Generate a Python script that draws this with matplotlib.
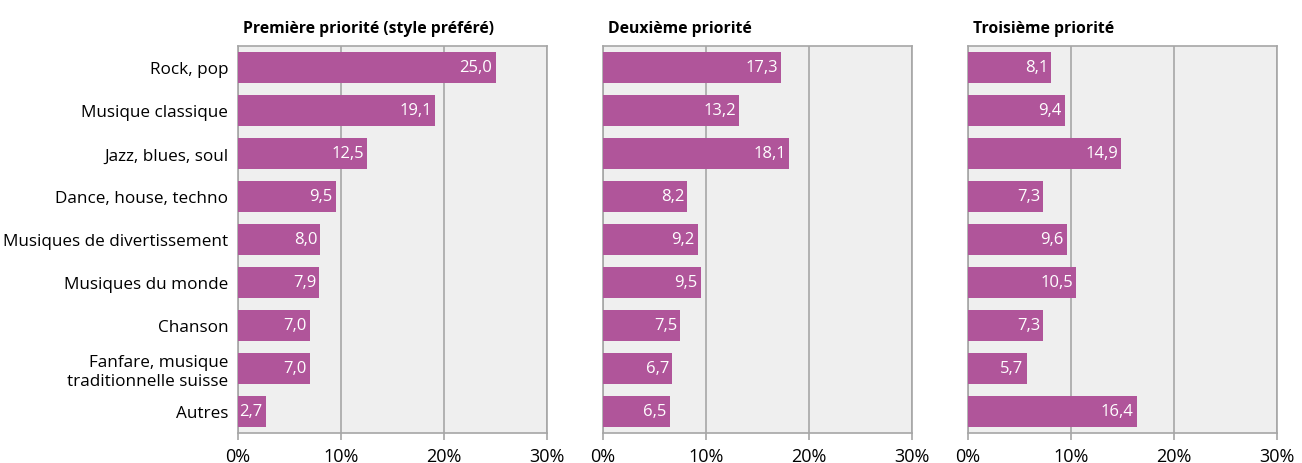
import matplotlib.pyplot as plt

plt.rcParams['font.family'] = ['Open Sans', 'DejaVu Sans']

# Data
categories = ["Rock, pop", "Musique classique", "Jazz, blues, soul",
              "Dance, house, techno", "Musiques de divertissement",
              "Musiques du monde", "Chanson",
              "Fanfare, musique\ntraditionnelle suisse", "Autres"]
titles = ["Première priorité (style préféré)", "Deuxième priorité", "Troisième priorité"]
first = [25.0, 19.1, 12.5, 9.5, 8.0, 7.9, 7.0, 7.0, 2.7]
second = [17.3, 13.2, 18.1, 8.2, 9.2, 9.5, 7.5, 6.7, 6.5]
third = [8.1, 9.4, 14.9, 7.3, 9.6, 10.5, 7.3, 5.7, 16.4]
series = [first, second, third]
ticks = [0, 10, 20, 30]

BAR = '#B0559A'
GRID = '#A6A6A6'

fig = plt.figure(figsize=(13.02, 4.64), dpi=100)
lefts = [238, 603, 968]
for i, (left, vals, title) in enumerate(zip(lefts, series, titles)):
    ax = fig.add_axes([left / 1302, 30 / 464, 309 / 1302, 387 / 464])
    ax.set_facecolor('#EFEFEF')
    y = list(range(len(categories)))
    ax.barh(y, vals, height=0.72, color=BAR, zorder=3)
    for yi, v in zip(y, vals):
        ax.text(v - 0.3, yi, f"{v:.1f}".replace('.', ','), color='white',
                ha='right', va='center', fontsize=12, zorder=4)
    ax.set_xlim(0, 30)
    ax.set_ylim(len(categories) - 0.5, -0.5)
    ax.set_xticks(ticks)
    ax.set_xticklabels([f"{t}%" for t in ticks], fontsize=13)
    ax.xaxis.grid(True, color=GRID, linewidth=1.2, zorder=1)
    ax.tick_params(axis='x', length=5, width=1.2, color=GRID, pad=5)
    for s in ax.spines.values():
        s.set_color(GRID)
        s.set_linewidth(1.2)
    if i == 0:
        ax.set_yticks(y)
        ax.set_yticklabels(categories, fontsize=12.3, linespacing=1.2)
        ax.tick_params(axis='y', length=0, pad=7)
    else:
        ax.set_yticks([])
    ax.set_title(title, loc='left', fontsize=11.3, fontweight='bold', pad=10, x=0.015)

fig.savefig('out.png', dpi=100)
